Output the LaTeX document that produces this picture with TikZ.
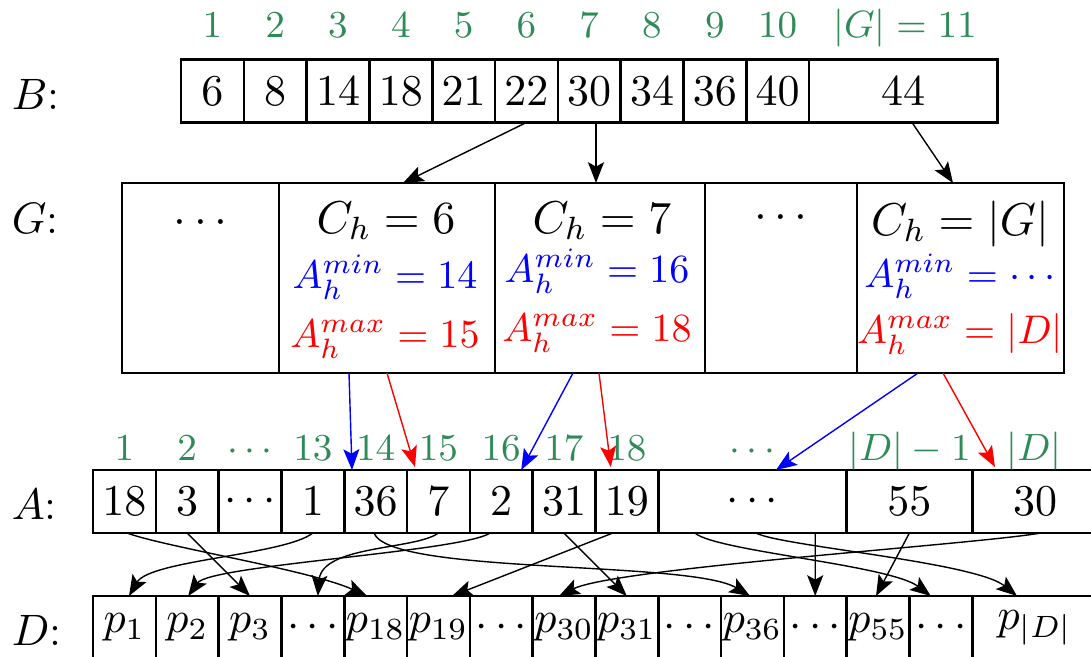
\RequirePackage{fix-cm}
\documentclass[tikz,border=0pt]{standalone}
\usetikzlibrary{arrows.meta}
\definecolor{idxgreen}{RGB}{46,139,87}
\begin{document}
\begin{tikzpicture}[x=0.25pt,y=-0.25pt,
  cellbox/.style={draw,line width=0.65pt,minimum width=15.7pt,minimum height=15.75pt,inner sep=0pt,outer sep=0pt,font=\fontsize{11}{13}\selectfont},
  gbox/.style={draw,line width=0.65pt,minimum height=47.5pt,inner sep=0pt,outer sep=0pt},
  idx/.style={text=idxgreen,font=\fontsize{9.5}{11}\selectfont,anchor=base,inner sep=0pt},
  rowlabel/.style={font=\fontsize{11}{13}\selectfont,anchor=west,inner sep=0pt},
  chtext/.style={font=\fontsize{11.5}{13}\selectfont,anchor=base,inner sep=0pt},
  atext/.style={font=\fontsize{10}{12}\selectfont,anchor=base,inner sep=0pt},
  arr/.style={-{Stealth[length=5.2pt,width=4pt,inset=1.1pt]},line width=0.35pt},
]
\useasboundingbox (0,0) rectangle (1091,656);
\clip (0,0) rectangle (1091,656);

% row labels
\node[rowlabel] (lB) at (11,94) {$B$:};
\node[rowlabel] (lG) at (11,218) {$G$:};
\node[rowlabel] (lA) at (11,504) {$A$:};
\node[rowlabel] (lD) at (11,630) {$D$:};

% B row
\foreach \i/\v in {1/6,2/8,3/14,4/18,5/21,6/22,7/30,8/34,9/36,10/40}
  \node[cellbox] (b\i) at ({181+62.8*(\i-0.5)},91) {$\v$};
\node[cellbox,minimum width=47.1pt] (b11) at (903.2,91) {$44$};
\foreach \i in {1,...,10}
  \node[idx] (ib\i) at ({181+62.8*(\i-0.5)},37) {$\i$};
\node[idx] (ib11) at (905,37) {$|G|=11$};

% G row
\node[gbox,minimum width=39.25pt] (g1) at (200.5,278) {};
\node[gbox,minimum width=54pt] (g2) at (387,278) {};
\node[gbox,minimum width=52.5pt] (g3) at (600,278) {};
\node[gbox,minimum width=38pt] (g4) at (781,278) {};
\node[gbox,minimum width=51.75pt] (g5) at (960.5,278) {};

\node[chtext] (g1d) at (200.5,233) {$\cdots$};
\node[chtext] (g4d) at (781,228) {$\cdots$};
\node[chtext] (g2c) at (386,233) {$C_h=6$};
\node[atext,text=blue] (g2a) at (385,288) {$A_h^{min}=14$};
\node[atext,text=red] (g2b) at (385,347) {$A_h^{max}=15$};
\node[chtext] (g3c) at (602,233) {$C_h=7$};
\node[atext,text=blue] (g3a) at (597,282) {$A_h^{min}=16$};
\node[atext,text=red] (g3b) at (597,341) {$A_h^{max}=18$};
\node[chtext] (g5c) at (960,235) {$C_h=|G|$};
\node[atext,text=blue] (g5a) at (960,287) {$A_h^{min}=\cdots$};
\node[atext,text=red] (g5b) at (960,343) {$A_h^{max}=|D|$};

% A row
\foreach \i/\v in {1/18,2/3,3/\cdots,4/1,5/36,6/7,7/2,8/31,9/19}
  \node[cellbox] (a\i) at ({124.4+62.8*(\i-1)},501.5) {$\v$};
\node[cellbox,minimum width=47.1pt] (a10) at (752.4,501.5) {$\cdots$};
\node[cellbox,minimum width=31.4pt] (a11) at (909.4,501.5) {$55$};
\node[cellbox,minimum width=31.4pt] (a12) at (1035,501.5) {$30$};
\foreach \i/\v in {1/1,2/2,3/\cdots,4/13,5/14,6/15,7/16,8/17,9/18}
  \node[idx] (ia\i) at ({124.4+62.8*(\i-1)},460) {$\v$};
\node[idx] (ia10) at (752.4,460) {$\cdots$};
\node[idx] (ia11) at (909.4,460) {$|D|-1$};
\node[idx] (ia12) at (1034,460) {$|D|$};

% D row
\foreach \i/\v in {1/p_1,2/p_2,3/p_3,4/\cdots,5/p_{18},6/p_{19},7/\cdots,8/p_{30},9/p_{31},10/\cdots,11/p_{36},12/\cdots,13/p_{55},14/\cdots}
  \node[cellbox] (d\i) at ({124.4+62.8*(\i-1)},627.5) {$\v$};
\node[cellbox,minimum width=31.4pt] (d15) at (1035,627.5) {$p_{|D|}$};

% B -> G
\draw[arr] (b6.south) -- ([shift={(16,0)}]g2.north);
\draw[arr] ([shift={(6.8,0)}]b7.south) -- ([shift={(-4,0)}]g3.north);
\draw[arr] ([shift={(8.8,0)}]b11.south) -- ([shift={(-7.5,0)}]g5.north);

% G -> A
\draw[arr,blue] ([shift={(-38,0)}]g2.south) -- ([shift={(-23.6,0)}]a5.north);
\draw[arr,red] (g2.south) -- ([shift={(-23.4,-3)}]a6.north);
\draw[arr,blue] ([shift={(-27,0)}]g3.south) -- ([shift={(20,0)}]a7.north);
\draw[arr,red] ([shift={(-1,0)}]g3.south) -- ([shift={(-16,-3)}]a9.north);
\draw[arr,blue] ([shift={(-42.5,0)}]g5.south) -- ([shift={(23.6,0)}]a10.north);
\draw[arr,red] ([shift={(-17.5,0)}]g5.south) -- ([shift={(-40,-3)}]a12.north);

% A -> D
\draw[arr] ([shift={(2.6,0)}]a1.south) .. controls +(38,14) and +(-57,-26) .. ([shift={(-8.6,0)}]d5.north);
\draw[arr] (a2.south) -- (d3.north);
\draw[arr] (a4.south) .. controls +(-28,22) and +(21,-36) .. ([shift={(4.6,0)}]d1.north);
\draw[arr] ([shift={(-1.6,0)}]a5.south) .. controls +(16,42) and +(-60,-36) .. ([shift={(-2.4,0)}]d11.north);
\draw[arr] (a6.south) .. controls +(-23,17) and +(4,-51) .. ([shift={(5,0)}]d4.north);
\draw[arr] ([shift={(-11,0)}]a7.south) .. controls +(-30,19) and +(22,-31) .. ([shift={(1,0)}]d2.north);
\draw[arr] (a8.south) -- (d9.north);
\draw[arr] ([shift={(-14,0)}]a9.south) -- ([shift={(13.6,0)}]d6.north);
\draw[arr] ([shift={(6,0)}]a12.south) .. controls +(-71,12) and +(56,-28) .. ([shift={(-5,0)}]d8.north);
\draw[arr] ([shift={(-57.4,0)}]a10.south) .. controls +(20,18) and +(-41,-31) .. ([shift={(-10,0)}]d14.north);
\draw[arr] ([shift={(3.6,0)}]a10.south) .. controls +(24,13) and +(-42,-34) .. ([shift={(-18,0)}]d15.north);
\draw[arr] ([shift={(62.8,0)}]a10.south) -- (d12.north);
\draw[arr] (a11.south) -- ([shift={(-2,0)}]d13.north);
\end{tikzpicture}
\end{document}
